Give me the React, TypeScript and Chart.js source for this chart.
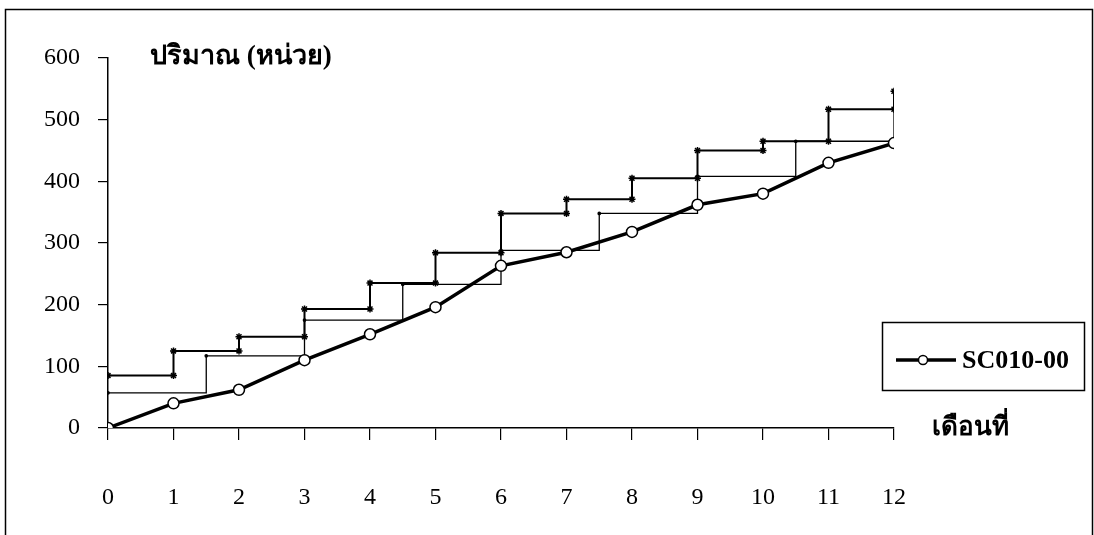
import React, { useEffect, useRef } from "react";
import { Chart, registerables } from "chart.js";

Chart.register(...registerables);

// Months (x axis)
const months = [0, 1, 2, 3, 4, 5, 6, 7, 8, 9, 10, 11, 12];
// Cumulative quantity of SC010-00
const sc010 = [0, 40, 62, 110, 152, 196, 263, 285, 318, 362, 380, 430, 462];
// Upper staircase (monthly steps)
const upperX = [0, 1, 2, 3, 4, 5, 6, 7, 8, 9, 10, 11, 12];
const upperLevels = [85, 125, 148, 193, 235, 284, 348, 371, 405, 450, 465, 517, 546];
// Lower staircase (steps every 1.5 months)
const lowerX = [0, 1.5, 3, 4.5, 6, 7.5, 9, 10.5, 12];
const lowerLevels = [57, 117, 175, 233, 288, 348, 408, 465, 517];
// Axis ticks and labels
const yTicks = [0, 100, 200, 300, 400, 500, 600];
const seriesName = "SC010-00";
const yTitle = "ปริมาณ (หน่วย)";
const xTitle = "เดือนที่";

const SERIF = "'Liberation Serif', 'Times New Roman', serif";

export default function App() {
  const ref = useRef<HTMLCanvasElement | null>(null);

  useEffect(() => {
    const canvas = ref.current;
    if (!canvas) return;

    // corner points for the upper staircase (both ends of each riser)
    const upperPts: { x: number; y: number }[] = [];
    upperX.forEach((x, i) => {
      if (i > 0) upperPts.push({ x, y: upperLevels[i - 1] });
      upperPts.push({ x, y: upperLevels[i] });
    });

    const decor = {
      id: "decor",
      beforeDraw(chart: any) {
        const ctx = chart.ctx;
        ctx.save();
        ctx.fillStyle = "#fff";
        ctx.fillRect(0, 0, chart.width, chart.height);
        ctx.strokeStyle = "#000";
        ctx.lineWidth = 1.5;
        ctx.beginPath();
        ctx.moveTo(5.5, 545);
        ctx.lineTo(5.5, 9.5);
        ctx.lineTo(1092.5, 9.5);
        ctx.lineTo(1092.5, 545);
        ctx.stroke();
        ctx.restore();
      },
      afterDraw(chart: any) {
        const ctx = chart.ctx;
        ctx.save();
        ctx.fillStyle = "#000";
        ctx.textBaseline = "middle";
        ctx.textAlign = "left";
        ctx.font = `bold 27px ${SERIF}`;
        ctx.fillText(yTitle, 150, 57);
        ctx.font = `bold 26px ${SERIF}`;
        ctx.fillText(xTitle, 932, 428);
        // legend
        ctx.strokeStyle = "#000";
        ctx.lineWidth = 1.5;
        ctx.strokeRect(882.5, 322.5, 202, 68);
        ctx.lineWidth = 3.5;
        ctx.beginPath();
        ctx.moveTo(896, 360);
        ctx.lineTo(956, 360);
        ctx.stroke();
        ctx.beginPath();
        ctx.arc(923, 360, 4.5, 0, Math.PI * 2);
        ctx.fillStyle = "#fff";
        ctx.fill();
        ctx.lineWidth = 1.5;
        ctx.stroke();
        ctx.fillStyle = "#000";
        ctx.font = `bold 26px ${SERIF}`;
        ctx.fillText(seriesName, 962, 361);
        ctx.restore();
      },
    };

    const chart = new Chart(canvas, {
      type: "line",
      data: {
        datasets: [
          {
            label: seriesName,
            data: months.map((m, i) => ({ x: m, y: sc010[i] })),
            borderColor: "#000",
            borderWidth: 3.5,
            pointStyle: "circle",
            pointRadius: 5.5,
            pointBackgroundColor: "#fff",
            pointBorderColor: "#000",
            pointBorderWidth: 1.5,
            order: 0,
          },
          {
            label: "upper",
            data: upperPts,
            borderColor: "#000",
            borderWidth: 2,
            pointStyle: "star",
            pointRadius: 3.5,
            pointBorderColor: "#000",
            pointBackgroundColor: "#000",
            pointBorderWidth: 1.5,
            order: 1,
          },
          {
            label: "lower",
            data: lowerX.map((x, i) => ({ x, y: lowerLevels[i] })),
            stepped: "before",
            borderColor: "#000",
            borderWidth: 1.3,
            pointRadius: 1.2,
            pointBackgroundColor: "#000",
            pointBorderColor: "#000",
            order: 2,
          },
        ],
      },
      options: {
        responsive: false,
        animation: false,
        layout: { padding: { top: 58, right: 200, bottom: 0, left: 0 } },
        plugins: {
          legend: { display: false },
          tooltip: { enabled: false },
        },
        scales: {
          x: {
            type: "linear",
            min: 0,
            max: 12,
            afterFit: (s: any) => {
              s.height = 107;
            },
            ticks: {
              stepSize: 1,
              color: "#000",
              padding: 43,
              font: { family: SERIF, size: 24 },
            },
            grid: {
              drawOnChartArea: false,
              drawTicks: true,
              tickLength: 12,
              color: "#000",
              lineWidth: 1.2,
            },
            border: { display: true, color: "#000", width: 1.5 },
          },
          y: {
            type: "linear",
            min: 0,
            max: 600,
            afterFit: (s: any) => {
              s.width = 108;
            },
            afterBuildTicks: (s: any) => {
              s.ticks = yTicks.map((v) => ({ value: v }));
            },
            ticks: {
              color: "#000",
              padding: 18,
              font: { family: SERIF, size: 24 },
            },
            grid: {
              drawOnChartArea: false,
              drawTicks: true,
              tickLength: 10,
              color: "#000",
              lineWidth: 1.2,
            },
            border: { display: true, color: "#000", width: 1.5 },
          },
        },
      },
      plugins: [decor],
    });

    return () => chart.destroy();
  }, []);

  return (
    <div style={{ position: "fixed", left: 0, top: 0, width: 1094, height: 535, background: "#fff" }}>
      <canvas ref={ref} width={1094} height={535} style={{ display: "block" }} />
    </div>
  );
}
